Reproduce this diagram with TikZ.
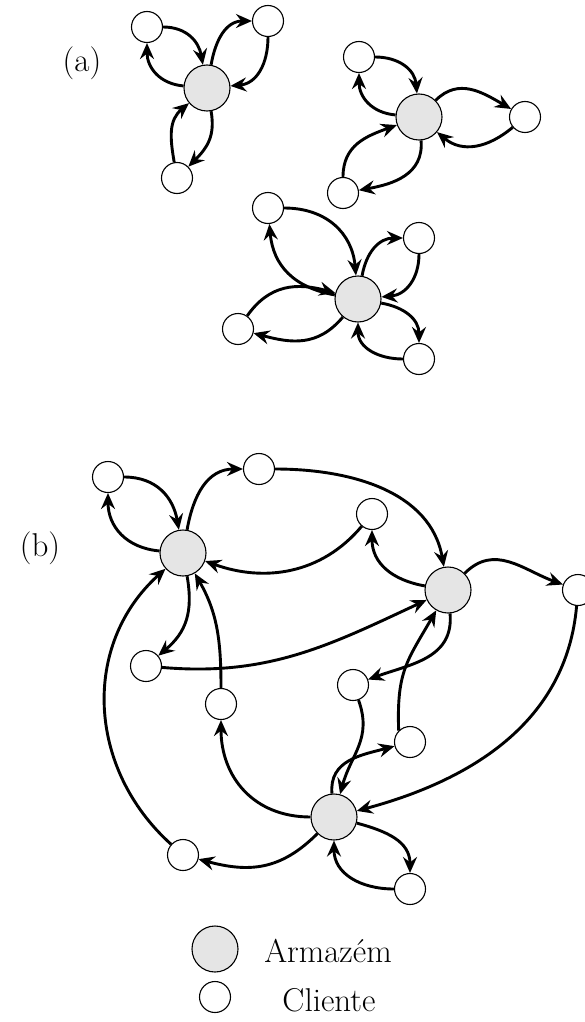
\documentclass[tikz,border=0pt]{standalone}
\usepackage{fontspec}
\usetikzlibrary{arrows.meta}
\tikzset{
 depot/.style={circle, draw, line width=1.1pt, fill=gray!20, minimum size=46pt, inner sep=0pt},
 client/.style={circle, draw, line width=1.1pt, fill=white, minimum size=31pt, inner sep=0pt},
 arc/.style={line width=2.9pt, looseness=1.1, -{Stealth[length=16pt,width=14pt,inset=5.5pt]}},
 lbl/.style={font=\fontsize{33}{40}\selectfont, inner sep=0pt}
}
\begin{document}
\begin{tikzpicture}[x=1pt,y=1pt]
\useasboundingbox (0,0) rectangle (585,-1022);
% ---------- (a) ----------
\node[lbl] (la) at (82,-63) {(a)};
% group 1
\node[depot] (D1) at (207,-88) {};
\node[client] (c1) at (147,-27) {};
\node[client] (c2) at (268,-21) {};
\node[client] (c3) at (177,-178) {};
\draw[arc] (c1) to[out=0,in=100] (D1);
\draw[arc] (D1) to[out=175,in=-90] (c1);
\draw[arc] (D1) to[out=80,in=180] (c2);
\draw[arc] (c2) to[out=-90,in=5] (D1);
\draw[arc] (D1) to[out=-80,in=45] (c3);
\draw[arc] (c3) to[out=100,in=220] (D1);
% group 2
\node[depot] (D2) at (419,-117) {};
\node[client] (t2) at (359,-57) {};
\node[client] (r2) at (525,-117) {};
\node[client] (b2) at (343,-193) {};
\draw[arc] (t2) to[out=0,in=95] (D2);
\draw[arc] (D2) to[out=175,in=-90] (t2);
\draw[arc] (D2) to[out=45,in=150] (r2);
\draw[arc] (r2) to[out=220,in=-40] (D2);
\draw[arc] (D2) to[out=-85,in=10] (b2);
\draw[arc] (b2) to[out=90,in=200] (D2);
% group 3
\node[depot] (D3) at (358,-299) {};
\node[client] (t3) at (268,-208) {};
\node[client] (r3) at (419,-238) {};
\node[client] (l3) at (238,-329) {};
\node[client] (br3) at (419,-359) {};
\draw[arc] (t3) to[out=0,in=95] (D3);
\draw[arc] (D3) to[out=170,in=-85] (t3);
\draw[arc] (D3) to[out=80,in=180] (r3);
\draw[arc] (r3) to[out=-90,in=5] (D3);
\draw[arc] (D3) to[out=-10,in=90] (br3);
\draw[arc] (br3) to[out=180,in=-90] (D3);
\draw[arc] (l3) to[out=55,in=165] (D3);
\draw[arc] (D3) to[out=230,in=-15] (l3);
% ---------- (b) ----------
\node[lbl] (lb) at (40,-548) {(b)};
\node[depot] (A) at (183,-553) {};
\node[depot] (B) at (448,-590) {};
\node[depot] (C) at (334,-817) {};
\node[client] (a1) at (108,-477) {};
\node[client] (a2) at (259,-469) {};
\node[client] (a3) at (372,-514) {};
\node[client] (a4) at (146,-666) {};
\node[client] (a5) at (221,-704) {};
\node[client] (R) at (578,-590) {};
\node[client] (b1) at (353,-685) {};
\node[client] (b2x) at (410,-742) {};
\node[client] (c4) at (183,-855) {};
\node[client] (c5) at (410,-889) {};
\draw[arc] (a1) to[out=0,in=100] (A);
\draw[arc] (A) to[out=175,in=-90] (a1);
\draw[arc] (A) to[out=80,in=180] (a2);
\draw[arc] (a2) to[out=0,in=100,looseness=1] (B);
\draw[arc] (a3) to[out=230,in=-20,looseness=1] (A);
\draw[arc] (B) to[out=170,in=-90] (a3);
\draw[arc] (B) to[out=45,in=160] (R);
\draw[arc] (R) to[out=-95,in=15,looseness=1] (C);
\draw[arc] (A) to[out=-80,in=40] (a4);
\draw[arc] (a4) to[out=-5,in=205,looseness=1] (B);
\draw[arc] (a5) to[out=90,in=-60,looseness=1] (A);
\draw[arc] (C) to[out=180,in=-90] (a5);
\draw[arc] (B) to[out=-85,in=20] (b1);
\draw[arc] (b1) to[out=-70,in=75] (C);
\draw[arc] (C) to[out=95,in=195] (b2x);
\draw[arc] (b2x.135) to[out=92,in=240,looseness=1.2] (B);
\draw[arc] (C) to[out=225,in=-15] (c4);
\draw[arc] (c4) to[out=138,in=222,looseness=1.05] (A);
\draw[arc] (C) to[out=-15,in=90] (c5);
\draw[arc] (c5) to[out=180,in=-90] (C);
% ---------- legend ----------
\node[depot] (ld) at (215,-949) {};
\node[lbl] (ldt) at (328,-951) {Armazém};
\node[client] (lc) at (215,-997) {};
\node[lbl] (lct) at (329,-1000) {Cliente};
\end{tikzpicture}
\end{document}
